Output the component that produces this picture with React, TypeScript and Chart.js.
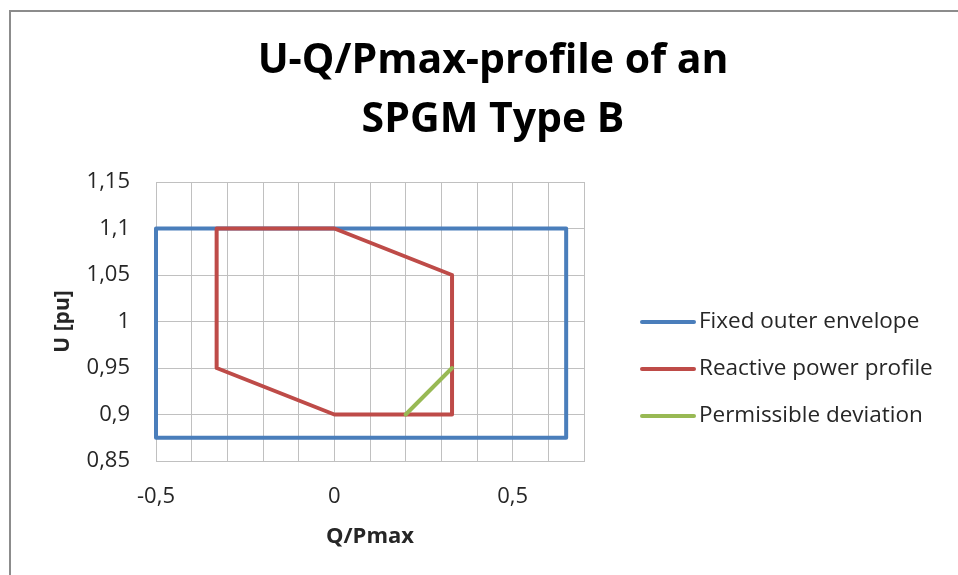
import React, { useEffect, useRef } from 'react';
import { Chart, registerables } from 'chart.js';

Chart.register(...registerables);

// ---- data ----
const seriesNames = ['Fixed outer envelope', 'Reactive power profile', 'Permissible deviation'];
const seriesColors = ['#4A7EBB', '#BE4B48', '#98B954'];

const envelopeQ = [-0.5, -0.5, 0.65, 0.65, -0.5];
const envelopeU = [0.875, 1.1, 1.1, 0.875, 0.875];

const profileQ = [-0.33, 0, 0.33, 0.33, 0, -0.33, -0.33];
const profileU = [1.1, 1.1, 1.05, 0.9, 0.9, 0.95, 1.1];

const deviationQ = [0.2, 0.33];
const deviationU = [0.9, 0.95];

const xMin = -0.5;
const xMax = 0.7;
const xStep = 0.1;
const xLabelStep = 0.5;
const yMin = 0.85;
const yMax = 1.15;
const yStep = 0.05;

const titleLines = ['U-Q/Pmax-profile of an', 'SPGM Type B'];
const xTitle = 'Q/Pmax';
const yTitle = 'U [pu]';

const FONT = "'Open Sans', 'Liberation Sans', sans-serif";
const TEXT = '#262626';
const GRID = '#c0c0c0';

const fmt = (v: number) => String(parseFloat(v.toFixed(3))).replace('.', ',');
const toPoints = (xs: number[], ys: number[]) => xs.map((x, i) => ({ x, y: ys[i] }));

const sideLegend = {
  id: 'sideLegend',
  afterDraw(chart: any) {
    const ctx = chart.ctx;
    ctx.save();
    chart.data.datasets.forEach((ds: any, i: number) => {
      const y = 322 + i * 47;
      ctx.strokeStyle = ds.borderColor;
      ctx.lineWidth = 4;
      ctx.lineCap = 'round';
      ctx.beginPath();
      ctx.moveTo(642, y);
      ctx.lineTo(694, y);
      ctx.stroke();
      ctx.fillStyle = TEXT;
      ctx.font = `22.5px ${FONT}`;
      ctx.textAlign = 'left';
      ctx.textBaseline = 'middle';
      ctx.fillText(ds.label, 699, y);
    });
    ctx.restore();
  },
};

export default function App() {
  const ref = useRef<HTMLCanvasElement>(null);

  useEffect(() => {
    if (!ref.current) return;
    const mk = (i: number, data: any[], order: number) => ({
      label: seriesNames[i],
      data,
      showLine: true,
      borderColor: seriesColors[i],
      backgroundColor: seriesColors[i],
      borderWidth: 4,
      pointRadius: 0,
      pointHoverRadius: 0,
      borderJoinStyle: 'round',
      borderCapStyle: 'round',
      tension: 0,
      clip: false,
      order,
    });
    const chart = new Chart(ref.current, {
      type: 'scatter',
      data: {
        datasets: [
          mk(0, toPoints(envelopeQ, envelopeU), 3),
          mk(1, toPoints(profileQ, profileU), 2),
          mk(2, toPoints(deviationQ, deviationU), 1),
        ] as any,
      },
      options: {
        responsive: false,
        animation: false,
        devicePixelRatio: 1,
        layout: { padding: { left: 28, right: 0, top: 0, bottom: 0 } },
        plugins: {
          legend: { display: false },
          tooltip: { enabled: false },
          title: {
            display: true,
            text: titleLines,
            color: '#000',
            font: { family: FONT, size: 41, weight: 'bold', lineHeight: '59px' },
            padding: { top: 32, bottom: 32 },
          },
        },
        scales: {
          x: {
            type: 'linear',
            min: xMin,
            max: xMax,
            afterFit: (s: any) => { s.height = 114; },
            ticks: {
              stepSize: xStep,
              autoSkip: false,
              maxRotation: 0,
              padding: 23,
              color: TEXT,
              font: { family: FONT, size: 22 },
              callback: (v: any) => {
                const r = v / xLabelStep;
                return Math.abs(r - Math.round(r)) < 1e-6 ? fmt(v) : '';
              },
            },
            grid: { color: GRID, lineWidth: 1, drawTicks: false },
            border: { color: GRID, width: 1 },
            title: {
              display: true,
              text: xTitle,
              color: TEXT,
              font: { family: FONT, size: 22, weight: 'bold', lineHeight: 1.2 },
              padding: { top: 0, bottom: 25 },
            },
          },
          y: {
            type: 'linear',
            min: yMin,
            max: yMax,
            afterFit: (s: any) => { s.width = 128; },
            ticks: {
              stepSize: yStep,
              autoSkip: false,
              padding: 26,
              color: TEXT,
              font: { family: FONT, size: 22 },
              callback: (v: any) => fmt(v),
            },
            grid: { color: GRID, lineWidth: 1, drawTicks: false },
            border: { color: GRID, width: 1 },
            title: {
              display: true,
              text: yTitle,
              color: TEXT,
              font: { family: FONT, size: 21, weight: 'bold', lineHeight: 1.2 },
              padding: { top: 22, bottom: 0 },
            },
          },
          legendSpace: {
            type: 'linear',
            position: 'right',
            display: true,
            min: yMin,
            max: yMax,
            afterFit: (s: any) => { s.width = 374; },
            ticks: { display: false },
            grid: { display: false, drawTicks: false },
            border: { display: false },
          },
        },
      },
      plugins: [sideLegend],
    } as any);
    return () => chart.destroy();
  }, []);

  return (
    <div style={{ position: 'absolute', left: 0, top: 0, width: 958, height: 575, background: '#fff', overflow: 'hidden' }}>
      <div
        style={{
          position: 'absolute',
          left: 9,
          top: 10,
          width: 1000,
          height: 600,
          borderLeft: '2px solid #8c8c8c',
          borderTop: '2px solid #8c8c8c',
        }}
      />
      <canvas ref={ref} width={958} height={575} style={{ position: 'absolute', left: 0, top: 0 }} />
    </div>
  );
}
